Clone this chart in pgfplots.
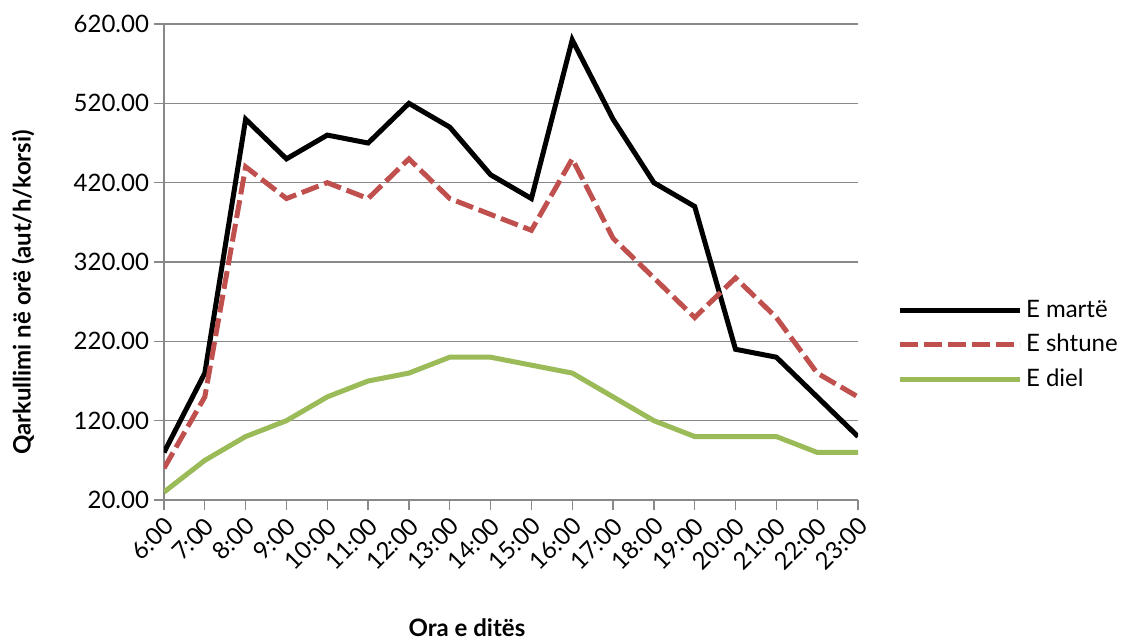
\documentclass[border=0pt]{standalone}
\usepackage{pgfplots}
\pgfplotsset{compat=1.18}
\usepackage{fontspec}
\setmainfont{Lato}

\definecolor{serred}{HTML}{C0504D}
\definecolor{sergreen}{HTML}{9BBB59}
\definecolor{gridgray}{HTML}{898989}

\begin{document}
\begin{tikzpicture}
\path[use as bounding box] (-82pt,-69.5pt) rectangle (480.5pt,250pt);
\begin{axis}[
  at={(0,0)}, anchor=south west,
  width=347pt, height=238pt, scale only axis,
  xmin=0, xmax=17, ymin=20, ymax=620,
  ytick={20,120,...,620},
  xtick={0,...,17},
  xticklabels={6:00,7:00,8:00,9:00,10:00,11:00,12:00,13:00,14:00,15:00,16:00,17:00,18:00,19:00,20:00,21:00,22:00,23:00},
  axis x line*=bottom, axis y line*=left,
  axis line style={gridgray, line width=0.65pt},
  tick style={gridgray, line width=0.65pt},
  tick align=outside, major tick length=5pt,
  ymajorgrids, grid style={gridgray, line width=0.65pt},
  font=\fontsize{12}{14}\selectfont,
  /pgf/number format/assume math mode=true,
  yticklabel style={/pgf/number format/fixed, /pgf/number format/fixed zerofill, /pgf/number format/precision=2, xshift=1pt},
  xticklabel style={rotate=45, anchor=east, yshift=-6pt, xshift=1pt},
  xlabel={\bfseries Ora e ditës},
  ylabel={\bfseries Qarkullimi në orë (aut/h/korsi)},
  xlabel style={at={(axis description cs:0.4366,-0.269)}, anchor=center},
  ylabel style={at={(axis description cs:-0.203,0.436)}, anchor=center},
  legend style={at={(axis description cs:1.047,0.326)}, anchor=west, draw=none, fill=none,
    font=\fontsize{12}{14}\selectfont, row sep=3pt},
  legend cell align=left,
  legend image code/.code={\draw[#1] (0pt,0pt) -- (60pt,0pt);},
]
\addplot[black, line width=2.5pt, line join=miter] coordinates {
  (0,80) (1,180) (2,500) (3,450) (4,480) (5,470) (6,520) (7,490) (8,430)
  (9,400) (10,600) (11,500) (12,420) (13,390) (14,210) (15,200) (16,150) (17,100)};
\addlegendentry{E martë}
\addplot[serred, line width=2.5pt, dash pattern=on 9pt off 3pt] coordinates {
  (0,60) (1,150) (2,440) (3,400) (4,420) (5,400) (6,450) (7,400) (8,380)
  (9,360) (10,450) (11,350) (12,300) (13,250) (14,300) (15,250) (16,180) (17,150)};
\addlegendentry{E shtune}
\addplot[sergreen, line width=2.5pt] coordinates {
  (0,30) (1,70) (2,100) (3,120) (4,150) (5,170) (6,180) (7,200) (8,200)
  (9,190) (10,180) (11,150) (12,120) (13,100) (14,100) (15,100) (16,80) (17,80)};
\addlegendentry{E diel}
\end{axis}
\end{tikzpicture}
\end{document}
